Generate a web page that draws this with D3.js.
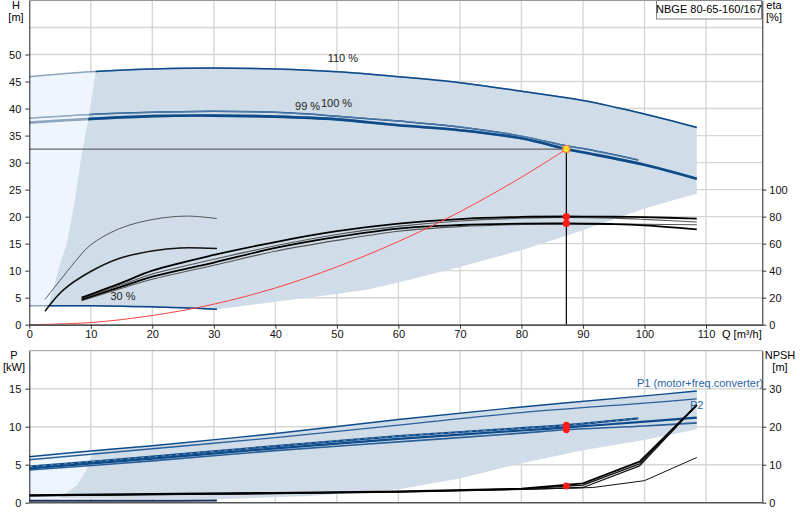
<!DOCTYPE html>
<html>
<head>
<meta charset="utf-8">
<script src="https://cdn.jsdelivr.net/npm/d3@7"></script>
<style>
body { margin: 0; background: #fff; }
svg { display: block; font-family: "Liberation Sans", Arial, sans-serif; font-size: 11px; }
</style>
</head>
<body>
<div id="chart"></div>
<script>
// tick values
var qTicks = [0, 10, 20, 30, 40, 50, 60, 70, 80, 90, 100, 110];
var hTicks = [0, 5, 10, 15, 20, 25, 30, 35, 40, 45, 50];
var hGrid = [5, 10, 15, 20, 25, 30, 35, 40, 45, 50, 55];
var etaTicks = [0, 20, 40, 60, 80, 100];
var pTicks = [0, 5, 10, 15];
var npshTicks = [0, 10, 20, 30];

// head curves [Q, H]
var head110 = [[0,45.9],[10,46.8],[20,47.3],[30,47.5],[40,47.3],[50,46.8],[60,45.9],[70,44.8],[80,43.2],[90,41.5],[100,39.0],[108.5,36.5]];
var head100 = [[0,38.2],[10,38.9],[20,39.3],[30,39.5],[40,39.3],[50,38.6],[60,37.7],[70,36.6],[80,34.9],[87.3,33.1],[90,32.6],[99,30.5]];
var head99 = [[0,37.4],[10,38.1],[20,38.6],[30,38.7],[40,38.5],[50,38.0],[60,36.9],[70,36.0],[80,34.5],[87.3,32.5],[90,31.9],[100,29.6],[108.5,27.0]];
var head30 = [[0,3.5],[5,3.5],[10,3.5],[15,3.4],[20,3.3],[25,3.15],[30.5,2.85]];
var systemCurve = [[0,0],[10,0.4],[20,1.7],[30,3.8],[40,6.8],[50,10.7],[60,15.4],[70,20.9],[80,27.3],[87.3,32.5]];

// operating range edges [Q, H]
var rangeLeft = [[3.1,3.45],[4.2,8],[5.2,12],[6.1,15],[7.4,23],[8.3,30],[9.1,35],[9.9,40],[10.8,46.8]];
var rangeLow = [[30.5,2.85],[40,4.25],[50,5.7],[55,6.5],[60,7.8],[70,10.7],[80,13.8],[90,17.5],[100,21.5],[108.5,24.3]];

// efficiency curves [Q, eta]
var etaThin = [[2.55,18.8],[5,32.8],[7.5,47],[9.9,58.8],[14.7,71.2],[20.2,78],[25.6,80.4],[30.5,78.6]];
var etaMid = [[2.55,10],[5.5,25.6],[9.9,39.2],[14.7,49.2],[20.2,54.8],[24.5,56.8],[30.5,56.4]];
var etaA = [[8.5,20],[15,31],[20,40],[30,51.6],[40,61.2],[50,69.2],[60,74.8],[70,78.2],[80,79.8],[87.3,80.1],[95,79.9],[100,79.6],[108.5,78.6]];
var etaB = [[8.5,19.4],[15,29.5],[20,37.6],[30,48.4],[40,58.4],[50,66.8],[60,72.8],[70,76.8],[80,78.8],[87.3,79.4],[95,78.9],[100,78],[108.5,76]];
var etaC = [[8.5,18.6],[15,28.2],[20,35.6],[30,46],[40,56.8],[50,65],[60,71.2],[70,73.8],[80,74.8],[87.3,74.9],[95,74.5],[100,73.5],[108.5,70.5]];
var etaD = [[8.5,17.8],[15,27],[20,33.6],[30,44],[40,54.4],[50,62.4],[60,69.2],[70,72.6],[80,74.2],[87.3,74.6],[95,74.6],[100,74.4],[108.5,74]];

// power curves [Q, P]
var powerA = [[0,6.05],[10,6.8],[20,7.5],[40,9.1],[60,10.95],[80,12.6],[100,14.05],[108.5,14.7]];
var powerB = [[0,5.65],[20,7.1],[40,8.55],[60,10.2],[80,11.85],[100,13.1],[108.5,13.65]];
var powerC = [[0,4.75],[20,6.05],[40,7.45],[60,8.75],[80,9.8],[87.3,10.2],[99,11.1]];
var powerD = [[0,4.5],[20,5.8],[40,7.15],[60,8.4],[80,9.5],[87.3,9.9],[99,10.6],[108.5,11.2]];
var powerE = [[0,4.3],[20,5.5],[40,6.85],[60,8.0],[80,9.15],[87.3,9.6],[100,10.1],[108.5,10.5]];
var power30 = [[0,0.25],[10,0.25],[20,0.25],[30.5,0.3]];
var powerLeft = [[4.8,0.6],[5.5,1.0],[7.7,2.3],[9.3,4.3],[10.1,6.05],[10.5,6.85]];
var powerLow = [[10,0.55],[20,0.5],[30.5,0.45],[45,0.85],[60,1.76],[70,3.2],[80,5.2],[90,6.9],[100,8.25],[108.5,9.65]];

// NPSH curves [Q, m]
var npsh1 = [[0,2.0],[20,2.3],[40,2.6],[60,3.0],[80,3.7],[90,5.1],[99.2,10.8],[108.5,25.7]];
var npsh2 = [[0,1.9],[20,2.2],[40,2.5],[60,2.9],[80,3.6],[90,4.6],[99.2,10.2],[108.5,25.7]];
var npsh3 = [[0,1.8],[20,2.1],[40,2.4],[60,2.8],[80,3.5],[90,4.0],[99.2,9.7],[108.5,25.7]];
var npsh4 = [[0,1.8],[20,2.1],[40,2.4],[60,2.8],[80,3.5],[91.6,4.0],[100,5.8],[108.5,11.9]];

// duty point
var dutyQ = 87.3, dutyH = 32.5;
var dutyEta = [80, 75];
var dutyP = [10.2, 9.9, 9.6];
var dutyNpsh = 4.4;

var w = 800, h = 520;
var blue = "#0c4a8a", paleBlue = "#8ca3bd";
var gridColor = "#d6d6d6";
var smooth = d3.curveCatmullRom.alpha(0.5);

var svg = d3.select("#chart").append("svg").attr("width", w).attr("height", h);

var x = d3.scaleLinear().domain([0, 119.15]).range([29.3, 762.3]);
var yH = d3.scaleLinear().domain([0, 60]).range([324.7, 0.5]);
var yEta = d3.scaleLinear().domain([0, 240]).range([324.7, 0.5]);
var yP = d3.scaleLinear().domain([0, 20]).range([502.7, 350.7]);
var yN = d3.scaleLinear().domain([0, 40]).range([502.7, 350.7]);

function lineGen(ys, curve) {
	return d3.line().x(function(d){ return x(d[0]); }).y(function(d){ return ys(d[1]); }).curve(curve || smooth);
}

function drawLine(g, data, ys, color, width, curve) {
	return g.append("path").datum(data)
		.attr("d", lineGen(ys, curve))
		.attr("fill", "none")
		.attr("stroke", color)
		.attr("stroke-width", width)
		.attr("stroke-linejoin", "round");
}

//---------------------------------------------------------------- top panel
var topG = svg.append("g");

// grid
topG.selectAll(".vg").data(qTicks.slice(1)).enter().append("line")
	.attr("x1", function(d){ return x(d); }).attr("x2", function(d){ return x(d); })
	.attr("y1", yH.range()[1]).attr("y2", yH.range()[0])
	.attr("stroke", gridColor).attr("stroke-width", 1.4);
topG.selectAll(".hg").data(hGrid).enter().append("line")
	.attr("x1", x.range()[0]).attr("x2", x.range()[1])
	.attr("y1", function(d){ return yH(d); }).attr("y2", function(d){ return yH(d); })
	.attr("stroke", gridColor).attr("stroke-width", 1.4);

// pale region left of the range
var palePts = head110.filter(function(d){ return d[0] <= 10; })
	.concat(rangeLeft.slice().reverse())
	.concat([[0, 3.5]]);
topG.append("path").datum(palePts)
	.attr("d", lineGen(yH, d3.curveLinearClosed))
	.attr("fill", "#edf4fc").attr("opacity", 0.95);

// gray operating range
var rangePts = rangeLeft
	.concat(head110.filter(function(d){ return d[0] > 10.8; }))
	.concat(rangeLow.slice().reverse())
	.concat(head30.filter(function(d){ return d[0] > 3.1 && d[0] < 30.5; }).reverse());
topG.append("path").datum(rangePts)
	.attr("d", lineGen(yH, d3.curveLinearClosed))
	.attr("fill", "#d0dce7");

// clip: everything right of the range's left edge
var clipPts = [[10.8, 62]].concat(rangeLeft.slice().reverse()).concat([[3.1, -3], [121, -3], [121, 62]]);
svg.append("clipPath").attr("id", "inRange").append("path")
	.attr("d", lineGen(yH, d3.curveLinearClosed)(clipPts));

// head curves: pale part then dark part
[[head110, 1.5], [head100, 1.5], [head99, 2.6], [head30, 1.5]].forEach(function(c) {
	drawLine(topG, c[0], yH, paleBlue, c[1]);
	drawLine(topG, c[0], yH, blue, c[1]).attr("clip-path", "url(#inRange)");
});
drawLine(topG, head100, yH, "#9fb4cb", 0.5);

// efficiency curves
drawLine(topG, etaThin, yEta, "#333", 0.8);
drawLine(topG, etaMid, yEta, "#111", 1.5);
drawLine(topG, etaD, yEta, "#555", 1.1);
drawLine(topG, etaC, yEta, "#000", 1.8);
drawLine(topG, etaB, yEta, "#555", 1.1);
drawLine(topG, etaA, yEta, "#000", 1.8);

// system curve
drawLine(topG, systemCurve, yH, "#ff4040", 1);

// duty lines
topG.append("line")
	.attr("x1", x(0)).attr("x2", x(dutyQ))
	.attr("y1", yH(dutyH)).attr("y2", yH(dutyH))
	.attr("stroke", "#666").attr("stroke-width", 1.2);
topG.append("line")
	.attr("x1", x(dutyQ)).attr("x2", x(dutyQ))
	.attr("y1", yH(dutyH)).attr("y2", yH(0))
	.attr("stroke", "#000").attr("stroke-width", 1.2);

// curve labels
var labels = [["110 %", 48.5, 48.6], ["99 %", 43.2, 39.8], ["100 %", 47.4, 40.3], ["30 %", 13.2, 4.5]];
topG.selectAll(".lbl").data(labels).enter().append("text")
	.attr("x", function(d){ return x(d[1]); })
	.attr("y", function(d){ return yH(d[2]); })
	.attr("fill", "#222")
	.text(function(d){ return d[0]; });

// duty markers
topG.selectAll(".etaDot").data(dutyEta).enter().append("circle")
	.attr("cx", x(dutyQ)).attr("cy", function(d){ return yEta(d); })
	.attr("r", 3.6).attr("fill", "#ff1a1a");
topG.append("circle")
	.attr("cx", x(dutyQ)).attr("cy", yH(dutyH))
	.attr("r", 3.6).attr("fill", "#ffe030").attr("stroke", "#ff7a30").attr("stroke-width", 1.2);

// frame
topG.append("line").attr("x1", x.range()[0]).attr("x2", x.range()[1]).attr("y1", 0.5).attr("y2", 0.5).attr("stroke", "#999");

// axes
var axL = topG.append("g").attr("transform", "translate(" + x.range()[0] + ",0)")
	.call(d3.axisLeft(yH).tickValues(hTicks).tickSize(4).tickPadding(4).tickSizeOuter(0));
var axR = topG.append("g").attr("transform", "translate(" + x.range()[1] + ",0)")
	.call(d3.axisRight(yEta).tickValues(etaTicks).tickSize(4).tickPadding(3).tickSizeOuter(0));
var axB = topG.append("g").attr("transform", "translate(0," + yH(0) + ")")
	.call(d3.axisBottom(x).tickValues(qTicks).tickSize(4).tickPadding(2).tickSizeOuter(0));
[axL, axR, axB].forEach(function(a) {
	a.selectAll("text").attr("font-size", 11).attr("font-family", "Liberation Sans, Arial, sans-serif").attr("fill", "#111");
	a.selectAll("line").attr("stroke", "#333");
});
axL.select(".domain").attr("stroke", "#222");
axR.select(".domain").attr("stroke", "#222");
axB.select(".domain").attr("stroke", "#555").attr("stroke-width", 1.8);

topG.append("text").attr("x", 16).attr("y", 9).attr("text-anchor", "middle").text("H");
topG.append("text").attr("x", 16).attr("y", 21).attr("text-anchor", "middle").text("[m]");
topG.append("text").attr("x", 774).attr("y", 9).attr("text-anchor", "middle").text("eta");
topG.append("text").attr("x", 774).attr("y", 21).attr("text-anchor", "middle").text("[%]");
topG.append("text").attr("x", 722).attr("y", 338).text("Q [m³/h]");

// title box
topG.append("rect").attr("x", 656.5).attr("y", 0.5).attr("width", 105).attr("height", 18.5)
	.attr("fill", "#fff").attr("stroke", "#888");
topG.append("text").attr("x", 709).attr("y", 13).attr("text-anchor", "middle").text("NBGE 80-65-160/167");

//---------------------------------------------------------------- bottom panel
var botG = svg.append("g");

botG.selectAll(".vg").data(qTicks.slice(1)).enter().append("line")
	.attr("x1", function(d){ return x(d); }).attr("x2", function(d){ return x(d); })
	.attr("y1", yP.range()[1]).attr("y2", yP.range()[0])
	.attr("stroke", gridColor).attr("stroke-width", 1.4);
botG.selectAll(".hg").data(pTicks.slice(1)).enter().append("line")
	.attr("x1", x.range()[0]).attr("x2", x.range()[1])
	.attr("y1", function(d){ return yP(d); }).attr("y2", function(d){ return yP(d); })
	.attr("stroke", gridColor).attr("stroke-width", 1.4);

var palePPts = powerA.filter(function(d){ return d[0] <= 10; })
	.concat(powerLeft.slice().reverse())
	.concat([[4.8, 0.25], [0, 0.25]]);
botG.append("path").datum(palePPts)
	.attr("d", lineGen(yP, d3.curveLinearClosed))
	.attr("fill", "#edf4fc");

var rangePPts = powerLeft
	.concat(powerA.filter(function(d){ return d[0] > 10.5; }))
	.concat(powerLow.slice().reverse());
botG.append("path").datum(rangePPts)
	.attr("d", lineGen(yP, d3.curveLinearClosed))
	.attr("fill", "#d0dce7");

drawLine(botG, powerA, yP, blue, 1.4);
drawLine(botG, powerB, yP, "#2a5f98", 1.3);
drawLine(botG, powerE, yP, "#2a5f98", 1.6);
drawLine(botG, powerD, yP, blue, 2.2);
drawLine(botG, powerC, yP, blue, 2.2);
drawLine(botG, powerC, yP, "#a9bcd0", 0.6).attr("stroke-dasharray", "3,4");
drawLine(botG, power30, yP, "#1c3558", 2);

// NPSH
drawLine(botG, npsh4, yN, "#111", 1, d3.curveLinear);
drawLine(botG, npsh3, yN, "#111", 1.3, d3.curveLinear);
drawLine(botG, npsh2, yN, "#111", 1.3, d3.curveLinear);
drawLine(botG, npsh1, yN, "#000", 1.8, d3.curveLinear);

botG.selectAll(".pDot").data(dutyP).enter().append("circle")
	.attr("cx", x(dutyQ)).attr("cy", function(d){ return yP(d); })
	.attr("r", 3.4).attr("fill", "#ff1a1a");
botG.append("circle").attr("cx", x(dutyQ)).attr("cy", yN(dutyNpsh)).attr("r", 3.4).attr("fill", "#ff1a1a");

botG.append("line").attr("x1", x.range()[0]).attr("x2", x.range()[1]).attr("y1", yP.range()[1]).attr("y2", yP.range()[1]).attr("stroke", "#999");

var axPL = botG.append("g").attr("transform", "translate(" + x.range()[0] + ",0)")
	.call(d3.axisLeft(yP).tickValues(pTicks).tickSize(4).tickPadding(4).tickSizeOuter(0));
var axPR = botG.append("g").attr("transform", "translate(" + x.range()[1] + ",0)")
	.call(d3.axisRight(yN).tickValues(npshTicks).tickSize(4).tickPadding(3).tickSizeOuter(0));
[axPL, axPR].forEach(function(a) {
	a.selectAll("text").attr("font-size", 11).attr("font-family", "Liberation Sans, Arial, sans-serif").attr("fill", "#111");
	a.selectAll("line").attr("stroke", "#333");
	a.select(".domain").attr("stroke", "#222");
});
botG.append("line").attr("x1", x.range()[0]).attr("x2", x.range()[1]).attr("y1", yP(0)).attr("y2", yP(0))
	.attr("stroke", "#555").attr("stroke-width", 1.6);

botG.append("text").attr("x", 14).attr("y", 359).attr("text-anchor", "middle").text("P");
botG.append("text").attr("x", 14).attr("y", 371).attr("text-anchor", "middle").text("[kW]");
botG.append("text").attr("x", 780).attr("y", 359).attr("text-anchor", "middle").text("NPSH");
botG.append("text").attr("x", 780).attr("y", 371).attr("text-anchor", "middle").text("[m]");
botG.append("text").attr("x", 637).attr("y", 386.5).attr("fill", "#2a64a4").text("P1 (motor+freq.converter)");
botG.append("text").attr("x", 690).attr("y", 409).attr("fill", "#2a64a4").text("P2");
</script>
</body>
</html>
